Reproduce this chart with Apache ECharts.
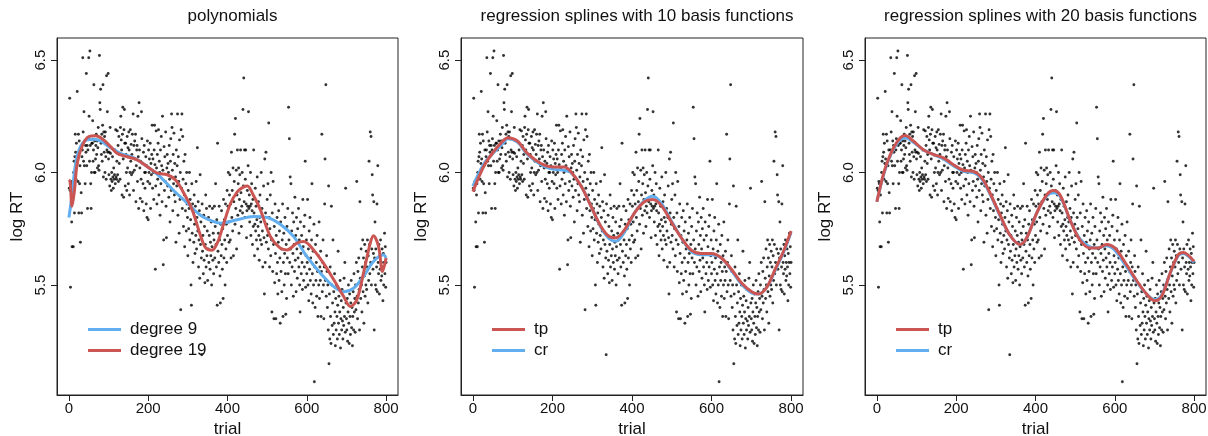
<!DOCTYPE html>
<html>
<head>
<meta charset="utf-8">
<title>log RT by trial</title>
<script src="https://cdn.jsdelivr.net/npm/echarts@6/dist/echarts.min.js"></script>
<style>
  html, body { margin: 0; padding: 0; background: #fff; }
  #chart { width: 1208px; height: 436px; }
</style>
</head>
<body>
<div id="chart"></div>
<script>
// log RT per trial, trial = position + 1 (1..800)
var logRT = [
  5.93,6.33,5.92,5.49,5.96,5.95,5.78,5.67,5.90,5.95, 5.67,6.00,6.05,5.82,6.07,6.17,6.09,5.97,6.13,6.04,
  6.36,6.06,5.96,6.17,5.82,6.14,5.95,6.03,5.69,6.10, 5.91,5.82,6.07,6.10,6.51,6.18,6.05,6.27,6.03,6.14,
  5.95,6.12,6.09,6.44,6.03,6.12,5.84,6.10,6.15,6.51,
  6.25,6.05,6.54,6.12,5.95,5.84,6.00,6.13,6.13,6.23, 6.05,6.10,6.39,6.00,6.14,6.00,6.06,6.12,6.17,6.08,
  6.14,6.02,6.11,6.20,6.03,6.01,6.52,6.31,6.28,6.37, 6.13,6.08,6.17,6.05,6.21,6.39,5.98,6.18,6.09,6.16,
  6.00,6.18,6.07,5.97,6.43,6.10,6.27,6.09,6.44,6.06,
  5.99,6.09,5.94,6.20,6.085,5.97,5.92,6.00,5.96,6.07, 5.98,5.93,6.02,5.97,5.99,6.10,5.95,6.19,5.98,5.97,
  6.05,6.185,5.99,6.12,5.96,6.16,6.04,6.08,5.97,6.20, 6.25,6.145,6.10,5.90,6.17,6.29,6.06,5.89,6.19,6.28,
  6.13,5.94,6.13,6.08,6.00,5.92,6.16,6.02,6.11,5.95,
  6.18,6.10,5.90,6.00,6.19,6.05,6.125,5.99,6.08,6.17, 6.00,6.26,5.92,6.12,6.01,6.14,6.06,6.17,5.87,6.03,
  6.10,6.12,5.96,6.25,6.07,5.84,6.31,6.10,6.02,5.885, 6.05,5.97,6.27,6.15,5.87,6.04,5.95,6.09,5.83,6.12,
  6.00,5.93,6.00,6.07,5.86,6.03,5.80,6.14,5.96,5.79,
  6.10,6.00,6.06,5.95,6.13,5.84,6.04,5.99,6.08,6.21, 5.93,6.06,6.00,5.88,6.10,6.21,6.035,5.57,5.94,6.185,
  6.02,5.86,6.08,5.97,6.13,6.19,5.90,6.05,6.00,5.81, 6.10,5.95,6.16,6.03,5.87,6.25,6.01,5.59,5.70,6.115,
  5.92,6.07,5.96,6.18,5.85,5.71,6.02,6.08,5.94,6.04,
  6.00,5.89,6.12,5.97,5.78,6.05,6.15,5.92,6.26,6.20, 6.01,5.83,6.08,5.95,6.175,5.90,6.04,5.87,5.98,5.69,
  6.10,5.94,6.03,6.26,5.81,6.07,5.96,5.73,6.145,5.88, 6.00,5.39,6.19,5.93,6.26,5.84,6.16,5.97,5.76,6.05,
  5.90,5.67,6.08,5.83,5.95,5.74,6.00,5.86,5.80,5.63,
  5.92,5.75,5.84,6.00,5.70,5.88,5.79,5.50,5.41,5.95, 5.73,5.86,5.60,5.82,5.69,5.90,5.77,5.64,5.85,5.72,
  5.96,5.66,5.80,6.11,5.74,5.87,5.58,5.70,5.83,5.53, 5.99,5.68,5.78,5.62,5.19,5.86,5.65,5.72,5.55,5.81,
  5.61,5.76,5.51,5.68,5.90,5.58,5.84,5.63,5.74,5.52,
  5.66,5.80,5.60,5.72,5.85,5.57,5.69,5.63,5.78,5.50, 5.67,5.84,5.61,5.73,5.55,5.70,5.85,5.62,5.76,5.95,
  5.68,5.58,5.79,5.41,6.13,5.65,5.73,5.60,5.85,5.70, 5.54,5.42,5.77,5.63,5.83,5.68,5.57,5.75,5.44,5.88,
  5.62,5.79,5.70,5.50,5.86,5.66,5.77,5.60,5.92,5.72,
  5.85,6.00,5.78,5.69,5.90,5.99,5.70,5.86,5.62,6.09, 5.80,5.92,5.74,6.02,5.63,5.87,5.96,6.17,5.77,6.24,
  5.84,6.01,5.66,5.90,6.10,5.81,5.95,6.02,5.73,5.88, 5.99,5.83,6.10,5.91,5.76,5.85,6.00,5.82,6.28,5.94,
  6.42,5.87,6.10,5.80,5.97,6.10,5.86,5.71,5.83,5.92,
  5.85,6.03,6.27,5.84,5.90,5.78,5.85,6.00,5.72,5.86, 5.95,5.83,5.68,5.88,5.76,6.10,5.82,5.63,5.77,5.93,
  5.74,5.85,5.70,5.79,5.98,5.66,5.76,5.87,5.72,5.61, 5.80,5.90,5.70,5.78,6.00,5.68,5.84,5.74,5.58,5.80,
  5.94,5.71,5.46,6.06,5.60,5.82,6.09,5.69,5.77,5.88,
  5.72,5.95,5.66,6.22,5.80,5.58,5.75,5.90,5.63,6.00, 5.70,5.38,5.82,5.56,5.96,5.68,5.35,5.76,5.51,5.86,
  5.64,5.35,5.72,5.55,5.80,5.60,5.46,5.69,5.83,5.52, 5.74,5.62,5.33,5.78,5.56,5.66,5.47,5.70,5.86,5.36,
  5.60,5.73,5.50,5.64,5.80,5.55,5.37,5.68,5.44,5.76,
  5.62,5.84,5.55,6.29,5.70,6.15,5.60,5.98,5.66,5.95, 5.50,5.74,5.58,5.82,5.64,5.45,5.78,5.68,5.56,5.89,
  5.61,5.72,5.47,5.80,5.66,5.53,5.75,5.62,5.84,5.58, 5.70,5.50,5.38,5.78,5.64,5.55,5.72,5.60,5.48,5.88,
  5.67,5.52,5.76,5.58,5.81,6.05,5.49,5.63,5.70,5.55,
  5.60,5.88,5.50,5.66,5.43,5.74,5.57,5.80,5.52,5.62, 5.46,5.70,5.95,5.55,5.42,5.65,5.50,5.77,5.07,5.58,
  5.40,5.68,5.52,5.60,5.45,5.72,5.56,5.36,5.63,5.50, 5.78,5.44,5.58,5.52,5.65,5.36,5.56,6.17,5.47,5.60,
  5.70,5.50,5.35,5.58,5.86,6.06,5.52,6.39,5.45,5.63,
  5.56,5.40,5.50,5.30,5.94,5.15,5.46,5.26,5.58,5.36, 5.24,5.85,5.50,5.32,5.42,5.70,5.28,5.47,5.33,5.55,
  5.38,5.23,5.44,5.30,5.50,5.36,5.26,5.41,5.65,5.33, 5.45,5.28,5.38,5.52,5.22,5.35,5.43,5.30,5.48,5.34,
  5.26,5.40,5.32,5.53,5.36,5.60,5.29,5.93,5.42,5.35,
  5.30,5.44,5.25,5.38,5.50,5.33,5.24,5.46,5.36,5.28, 5.42,5.52,5.31,5.40,5.23,5.36,5.47,5.30,5.55,5.38,
  5.44,5.29,5.50,5.39,5.60,5.96,5.45,5.35,5.56,5.42, 5.62,5.48,5.30,5.87,5.53,5.44,5.66,5.50,5.38,5.58,
  5.70,5.47,5.62,5.33,5.54,5.68,5.45,5.60,5.50,5.65,
  5.48,5.58,5.70,5.42,5.63,5.52,6.05,5.68,5.55,6.18, 5.60,6.16,5.50,5.66,5.99,5.90,5.57,5.64,5.87,5.30,
  5.62,5.78,5.50,5.66,5.48,5.58,5.86,5.47,6.03,5.60, 5.55,5.68,5.46,5.63,5.57,5.70,5.52,5.60,5.54,5.66,
  5.58,5.43,5.64,5.50,5.60,5.73,5.55,5.67,5.49,5.60
];

// fitted curves (knots)
var deg9Trial = [0,8,17,29,46,63,80,101,130,164,197,231,264,298,332,360,382,424,466,500,533,567,600,634,668,693,718,743,768,793,800];
var deg9 = [5.80,5.90,6.04,6.115,6.145,6.148,6.14,6.115,6.085,6.065,6.027,5.98,5.92,5.865,5.81,5.785,5.775,5.79,5.805,5.80,5.77,5.715,5.627,5.553,5.493,5.47,5.486,5.538,5.604,5.634,5.62];

var deg19Trial = [0,3,8,14,21,34,50,67,84,105,122,147,172,197,223,248,269,290,311,330,345,361,375,390,407,425,440,450,465,483,508,533,550,575,592,617,642,668,693,710,726,743,760,768,781,791,800];
var deg19 = [5.967,5.96,5.85,5.92,6.04,6.12,6.16,6.163,6.15,6.115,6.085,6.07,6.056,6.027,5.997,5.99,5.967,5.908,5.834,5.73,5.665,5.655,5.69,5.77,5.86,5.915,5.935,5.94,5.90,5.834,5.716,5.664,5.656,5.686,5.693,5.656,5.597,5.523,5.449,5.404,5.434,5.553,5.686,5.719,5.671,5.56,5.62];

var spl10Trial = [0,28,53,78,87,112,137,171,200,230,246,272,297,322,343,360,381,406,431,452,473,499,524,549,574,600,625,650,675,701,718,739,760,781,800];
var tp10 = [5.915,6.03,6.095,6.145,6.155,6.14,6.085,6.04,6.025,6.025,6.005,5.94,5.85,5.76,5.715,5.71,5.745,5.82,5.87,5.88,5.855,5.78,5.71,5.655,5.64,5.64,5.62,5.57,5.51,5.47,5.46,5.49,5.57,5.65,5.74];
var cr10 = [5.94,6.04,6.09,6.135,6.15,6.135,6.08,6.035,6.015,6.01,6.0,5.94,5.85,5.755,5.705,5.695,5.735,5.82,5.875,5.895,5.865,5.785,5.71,5.65,5.635,5.635,5.62,5.565,5.505,5.465,5.46,5.49,5.565,5.645,5.735];

var spl20Trial = [0,13,25,42,59,71,92,118,143,168,193,218,244,265,285,311,336,361,378,403,428,445,462,487,512,537,558,579,600,626,655,680,701,718,739,760,772,800];
var tp20 = [5.87,5.97,6.04,6.11,6.155,6.165,6.14,6.10,6.08,6.065,6.035,6.01,6.005,5.975,5.91,5.81,5.72,5.68,5.71,5.82,5.90,5.92,5.90,5.79,5.70,5.665,5.665,5.68,5.665,5.60,5.52,5.46,5.43,5.45,5.55,5.635,5.645,5.605];
var cr20 = [5.87,5.965,6.035,6.105,6.145,6.155,6.135,6.10,6.08,6.06,6.03,6.005,6.0,5.97,5.905,5.805,5.72,5.68,5.71,5.82,5.895,5.91,5.895,5.79,5.705,5.67,5.665,5.675,5.655,5.59,5.515,5.46,5.435,5.455,5.55,5.63,5.64,5.60];

var titles = ['polynomials', 'regression splines with 10 basis functions', 'regression splines with 20 basis functions'];
var xTicks = [0, 200, 400, 600, 800];
var yTicks = [5.5, 6.0, 6.5];

var BLUE = '#62aeee';
var RED = '#cb5552';
var FONT = '"Liberation Sans", Arial, Helvetica, sans-serif';
var INK = '#111';

var chart = echarts.init(document.getElementById('chart'), null, { renderer: 'canvas' });

var gridLefts = [57, 461, 865];
var gridWidths = [341, 342, 341];

function pairs(xs, ys) {
  return xs.map(function (x, i) { return [x, ys[i]]; });
}
var points = logRT.map(function (v, i) { return [i + 1, v]; });

var grids = [], xAxes = [], yAxes = [], titleList = [], legends = [], series = [];

gridLefts.forEach(function (left, i) {
  grids.push({
    left: left, top: 38, width: gridWidths[i], height: 357,
    outerBoundsMode: 'none', containLabel: false,
    show: true, borderColor: '#222', borderWidth: 1, backgroundColor: 'transparent'
  });
  xAxes.push({
    gridIndex: i, type: 'value', min: -30, max: 830,
    name: 'trial', nameLocation: 'middle', nameGap: 26,
    nameTextStyle: { fontSize: 17, color: INK, fontFamily: FONT },
    axisLine: { show: true, onZero: false, lineStyle: { color: '#222', width: 1 } },
    splitLine: { show: false },
    axisTick: { show: true, length: 6, customValues: xTicks, lineStyle: { color: '#222' } },
    axisLabel: { customValues: xTicks, fontSize: 15, color: INK, fontFamily: FONT, margin: 6 }
  });
  yAxes.push({
    gridIndex: i, type: 'value', min: 5.011, max: 6.598,
    name: 'log RT', nameLocation: 'middle', nameGap: 31,
    nameTextStyle: { fontSize: 17, color: INK, fontFamily: FONT },
    axisLine: { show: true, onZero: false, lineStyle: { color: '#222', width: 1 } },
    splitLine: { show: false },
    axisTick: { show: true, length: 6, customValues: yTicks, lineStyle: { color: '#222' } },
    axisLabel: {
      customValues: yTicks, rotate: 90, fontSize: 15, color: INK, fontFamily: FONT, margin: 9,
      formatter: function (v) { return v.toFixed(1); }
    }
  });
  titleList.push({
    text: titles[i], left: left + gridWidths[i] / 2, top: 3, textAlign: 'center',
    textStyle: { fontSize: 17, fontWeight: 'normal', color: INK, fontFamily: FONT }
  });
  legends.push({
    left: left + 26, top: 316, orient: 'vertical',
    data: i === 0 ? ['degree 9', 'degree 19'] : ['tp', 'cr'],
    icon: 'rect', itemWidth: 33, itemHeight: 3, itemGap: 4,
    selectedMode: false,
    textStyle: { fontSize: 17, color: INK, fontFamily: FONT, lineHeight: 17, padding: [0, 0, 0, 4] }
  });
  series.push({
    type: 'scatter', xAxisIndex: i, yAxisIndex: i, data: points,
    symbolSize: 2.9, itemStyle: { color: '#000' }, silent: true, z: 2
  });
});

function curve(name, idx, xs, ys, color) {
  return {
    type: 'line', name: name, xAxisIndex: idx, yAxisIndex: idx,
    data: pairs(xs, ys), smooth: 0.35, showSymbol: false, symbol: 'none',
    lineStyle: { width: 3, color: color }, itemStyle: { color: color }, z: 3
  };
}

series.push(curve('degree 9', 0, deg9Trial, deg9, BLUE));
series.push(curve('degree 19', 0, deg19Trial, deg19, RED));
series.push(curve('cr', 1, spl10Trial, cr10, BLUE));
series.push(curve('tp', 1, spl10Trial, tp10, RED));
series.push(curve('cr', 2, spl20Trial, cr20, BLUE));
series.push(curve('tp', 2, spl20Trial, tp20, RED));

chart.setOption({
  animation: false,
  backgroundColor: '#fff',
  textStyle: { fontFamily: FONT },
  title: titleList,
  legend: legends,
  grid: grids,
  xAxis: xAxes,
  yAxis: yAxes,
  series: series
});
</script>
</body>
</html>
